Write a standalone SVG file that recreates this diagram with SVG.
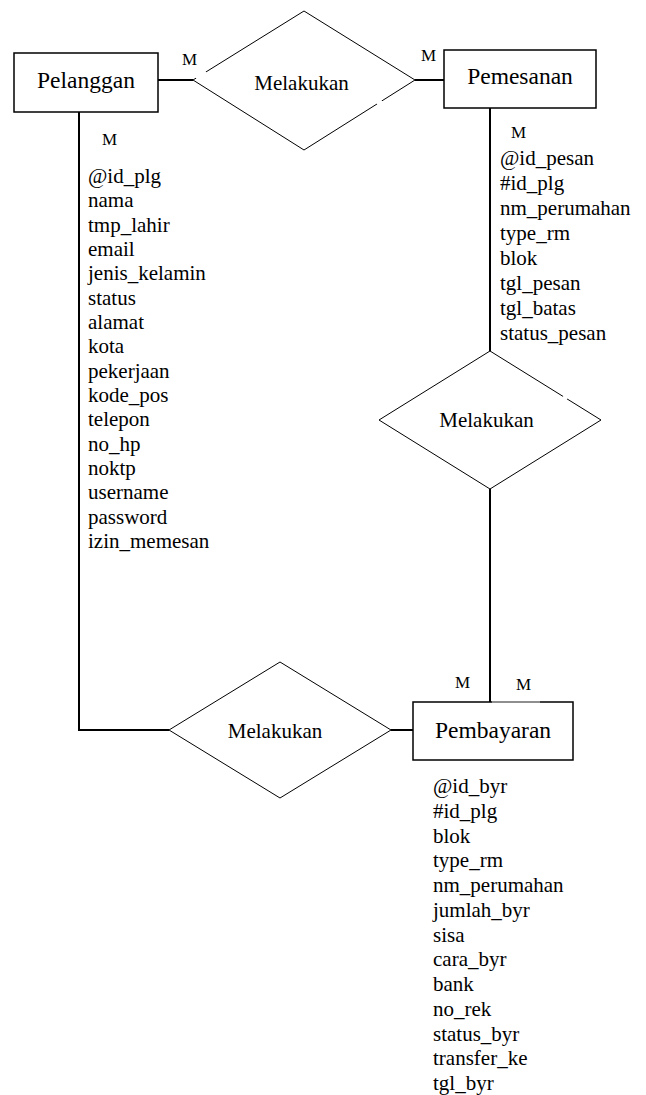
<svg xmlns="http://www.w3.org/2000/svg" width="646" height="1095" viewBox="0 0 646 1095">
<style>
text{font-family:"Liberation Serif","Times New Roman",serif;fill:#000}
.ent{fill:#fff;stroke:#000;stroke-width:1.5}
.rel{fill:#fff;stroke:#000;stroke-width:1}
.gap{stroke:#fff;stroke-width:3}
.title{font-size:23.5px;text-anchor:middle}
.lbl{font-size:21px;text-anchor:middle}
.attr{font-size:21px}
.card{font-size:17px}
.conn{fill:none;stroke:#000;stroke-width:2}
</style>
<rect width="646" height="1095" fill="#fff"/>
<g id="connectors">
<line class="conn" x1="158" y1="80" x2="193" y2="80"/>
<line class="conn" x1="415" y1="80" x2="444" y2="80"/>
<line class="conn" x1="490" y1="108" x2="490" y2="351"/>
<line class="conn" x1="490" y1="489" x2="490" y2="702"/>
<polyline class="conn" points="79,112 79,730 169,730"/>
<line class="conn" x1="391" y1="730" x2="413" y2="730"/>
<text class="card" x="182" y="65">M</text>
<text class="card" x="421" y="61">M</text>
<text class="card" x="102" y="145">M</text>
<text class="card" x="511" y="138">M</text>
<text class="card" x="455" y="688">M</text>
<text class="card" x="516" y="690">M</text>
</g>
<g id="pelanggan">
<rect class="ent" x="14" y="53" width="144" height="59"/>
<text class="title" x="86" y="88">Pelanggan</text>
<text class="attr" x="88" y="183">@id_plg</text>
<text class="attr" x="88" y="207.3">nama</text>
<text class="attr" x="88" y="231.7">tmp_lahir</text>
<text class="attr" x="88" y="256">email</text>
<text class="attr" x="88" y="280.3">jenis_kelamin</text>
<text class="attr" x="88" y="304.7">status</text>
<text class="attr" x="88" y="329">alamat</text>
<text class="attr" x="88" y="353.3">kota</text>
<text class="attr" x="88" y="377.7">pekerjaan</text>
<text class="attr" x="88" y="402">kode_pos</text>
<text class="attr" x="88" y="426.3">telepon</text>
<text class="attr" x="88" y="450.7">no_hp</text>
<text class="attr" x="88" y="475">noktp</text>
<text class="attr" x="88" y="499.3">username</text>
<text class="attr" x="88" y="523.7">password</text>
<text class="attr" x="88" y="548">izin_memesan</text>
</g>
<g id="rel-pelanggan-pemesanan">
<polygon class="rel" points="304,11 415,80 304,150 193,80"/>
<line class="gap" x1="196" y1="78" x2="206" y2="72"/>
<line class="gap" x1="377" y1="104" x2="382" y2="101"/>
<text class="lbl" x="301.5" y="90">Melakukan</text>
</g>
<g id="pemesanan">
<rect class="ent" x="444" y="50" width="152" height="58"/>
<text class="title" x="520" y="84">Pemesanan</text>
<text class="attr" x="500" y="165">@id_pesan</text>
<text class="attr" x="500" y="190">#id_plg</text>
<text class="attr" x="500" y="215">nm_perumahan</text>
<text class="attr" x="500" y="240">type_rm</text>
<text class="attr" x="500" y="265">blok</text>
<text class="attr" x="500" y="290">tgl_pesan</text>
<text class="attr" x="500" y="315">tgl_batas</text>
<text class="attr" x="500" y="340">status_pesan</text>
</g>
<g id="rel-pemesanan-pembayaran">
<polygon class="rel" points="490,351 601,420 490,489 379,420"/>
<line class="gap" x1="563" y1="396.5" x2="567" y2="399"/>
<text class="lbl" x="486.5" y="427">Melakukan</text>
</g>
<g id="rel-pelanggan-pembayaran">
<polygon class="rel" points="280,662 391,730 280,798 169,730"/>
<text class="lbl" x="275" y="738">Melakukan</text>
</g>
<g id="pembayaran">
<rect class="ent" x="413" y="702" width="160" height="58"/>
<line x1="492" y1="702" x2="540" y2="702" stroke="#aaa" stroke-width="1.5"/>
<text class="title" x="493" y="738">Pembayaran</text>
<text class="attr" x="433" y="793">@id_byr</text>
<text class="attr" x="433" y="817.75">#id_plg</text>
<text class="attr" x="433" y="842.5">blok</text>
<text class="attr" x="433" y="867.25">type_rm</text>
<text class="attr" x="433" y="892">nm_perumahan</text>
<text class="attr" x="433" y="916.75">jumlah_byr</text>
<text class="attr" x="433" y="941.5">sisa</text>
<text class="attr" x="433" y="966.25">cara_byr</text>
<text class="attr" x="433" y="991">bank</text>
<text class="attr" x="433" y="1015.75">no_rek</text>
<text class="attr" x="433" y="1040.5">status_byr</text>
<text class="attr" x="433" y="1065.25">transfer_ke</text>
<text class="attr" x="433" y="1090">tgl_byr</text>
</g>
</svg>
